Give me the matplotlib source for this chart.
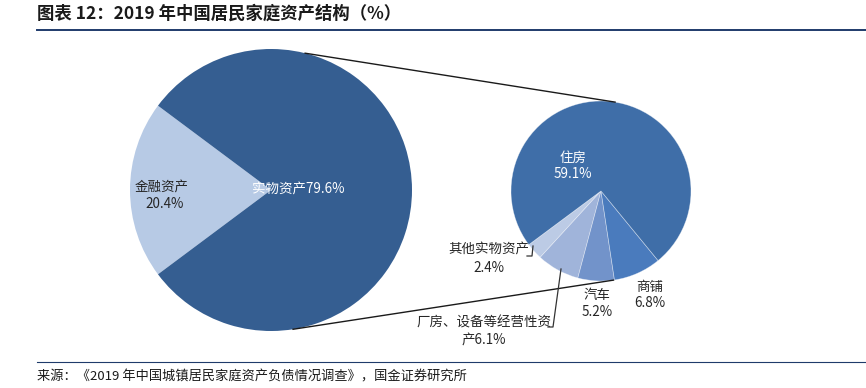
import numpy as np
import matplotlib
matplotlib.use("Agg")
import matplotlib.pyplot as plt

plt.rcParams['font.family'] = ['Noto Sans CJK SC', 'DejaVu Sans']

# ── Data ──────────────────────────────────────────────────────────────────
big_labels = ["金融资产", "实物资产"]
big_values = [20.4, 79.6]

small_labels = ["其他实物资产", "厂房、设备等经营性资产", "汽车", "商铺", "住房"]
small_values = [2.4, 6.1, 5.2, 6.8, 59.1]

title = "图表 12：2019 年中国居民家庭资产结构（%）"
source = "来源：《2019 年中国城镇居民家庭资产负债情况调查》，国金证券研究所"

# ── Style ─────────────────────────────────────────────────────────────────
W, H = 866, 388
BIG_COLORS = ["#b7cae5", "#355e91"]
SMALL_COLORS = ["#bccbe5", "#a0b4da", "#7293ca", "#4a7bbd", "#3f6ea8"]
TEXT_DARK = "#262626"
RULE_COLOR = "#1f3b6b"


def py(y):
    # pixel row (from top) -> data y (from bottom)
    return H - y


fig = plt.figure(figsize=(W / 100, H / 100), dpi=100)
ax = fig.add_axes([0, 0, 1, 1])

big_c, big_r = (271, py(190)), 141
small_c, small_r = (601, py(191)), 90

# big pie: light wedge centred on the left
big_start = 180 - big_values[0] / sum(big_values) * 360 / 2
ax.pie(big_values, colors=BIG_COLORS, startangle=big_start, center=big_c,
       radius=big_r, counterclock=True, wedgeprops=dict(linewidth=0),
       frame=True)

# small pie: minor items centred at the bottom
minor = sum(small_values[:-1]) / sum(small_values) * 360
small_start = 263 - minor / 2
ax.pie(small_values, colors=SMALL_COLORS, startangle=small_start,
       center=small_c, radius=small_r, counterclock=True,
       wedgeprops=dict(linewidth=0.5, edgecolor=(1, 1, 1, 0.45)), frame=True)
ax.set_xlim(0, W)
ax.set_ylim(0, H)
ax.set_aspect("auto")
ax.axis("off")


def on_circle(c, r, deg):
    t = np.deg2rad(deg)
    return c[0] + r * np.cos(t), c[1] + r * np.sin(t)


# connector lines
for a_big, a_small in [(76, 81), (-81, -82)]:
    x0, y0 = on_circle(big_c, big_r, a_big)
    x1, y1 = on_circle(small_c, small_r, a_small)
    ax.plot([x0, x1], [y0, y1], color="#1a1a1a", lw=1.0)

# ── Labels ────────────────────────────────────────────────────────────────
fs = 9.7
ax.text(162, py(188), big_labels[0], ha="center", va="center", fontsize=fs, color=TEXT_DARK)
ax.text(165, py(204), f"{big_values[0]}%", ha="center", va="center", fontsize=fs, color=TEXT_DARK)
ax.text(298, py(190), f"{big_labels[1]}{big_values[1]}%", ha="center", va="center",
        fontsize=fs, color="white")

ax.text(573, py(158), small_labels[4], ha="center", va="center", fontsize=fs, color="white")
ax.text(573, py(174), f"{small_values[4]}%", ha="center", va="center", fontsize=fs, color="white")

ax.text(489, py(250), small_labels[0], ha="center", va="center", fontsize=fs, color=TEXT_DARK)
ax.text(489, py(268), f"{small_values[0]}%", ha="center", va="center", fontsize=fs, color=TEXT_DARK)

ax.text(484, py(323), small_labels[1][:-1], ha="center", va="center", fontsize=fs, color=TEXT_DARK)
ax.text(484, py(341), f"{small_labels[1][-1]}{small_values[1]}%", ha="center", va="center",
        fontsize=fs, color=TEXT_DARK)

ax.text(597, py(295), small_labels[2], ha="center", va="center", fontsize=fs, color=TEXT_DARK)
ax.text(597, py(312), f"{small_values[2]}%", ha="center", va="center", fontsize=fs, color=TEXT_DARK)

ax.text(650, py(287), small_labels[3], ha="center", va="center", fontsize=fs, color=TEXT_DARK)
ax.text(650, py(303), f"{small_values[3]}%", ha="center", va="center", fontsize=fs, color=TEXT_DARK)

# leader lines
ax.plot([527, 532, 533], [py(256), py(256), py(246)], color="#333333", lw=0.9)
ax.plot([548, 553, 561], [py(327), py(327), py(269)], color="#333333", lw=0.9)

# ── Title, rules, source ─────────────────────────────────────────────────
ax.text(37, py(14), title, ha="left", va="center", fontsize=12.5, fontweight="bold",
        fontstyle="italic", color="#1a1a1a")
ax.plot([37, W], [py(30), py(30)], color=RULE_COLOR, lw=1.4)
ax.plot([37, W], [py(362), py(362)], color=RULE_COLOR, lw=0.8)
ax.text(37, py(377), source, ha="left", va="center", fontsize=9.5, color="#1a1a1a")

fig.savefig("out.png", dpi=100)
